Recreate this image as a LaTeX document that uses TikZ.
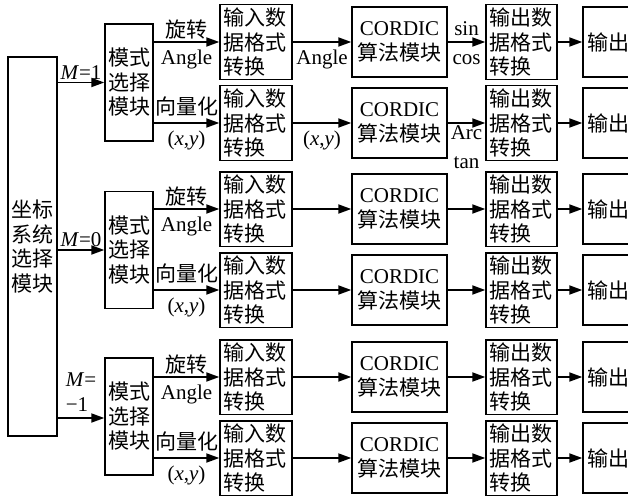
\documentclass[tikz,border=0pt]{standalone}
\usepackage{fontspec}
\setmainfont{Liberation Serif}
\newfontfamily\cjk{Noto Sans CJK SC}
\usepackage{tikz}
\usetikzlibrary{arrows.meta, positioning, calc}
\tikzset{
  box/.style={rectangle, draw=black, line width=1.4pt, minimum height=70pt,
    inner sep=3pt, font=\fontsize{21}{24.5}\selectfont},
  cjkbox/.style={box, font=\fontsize{21}{24.5}\selectfont\cjk},
  selbox/.style={cjkbox, minimum width=49pt, minimum height=379pt, align=center},
  modebox/.style={cjkbox, minimum width=48pt, minimum height=117pt, align=center},
  inbox/.style={cjkbox, text width=66pt, align=left},
  cordbox/.style={box, minimum width=95pt, align=center},
  fmtbox/.style={cjkbox, text width=65pt, align=left},
  outbox/.style={cjkbox, text width=70pt, inner sep=4pt, align=left},
  arrow/.style={-{Triangle[length=13pt,width=9pt]}, line width=1.8pt},
  lbl/.style={font=\fontsize{21}{24.5}\selectfont, inner sep=2pt},
  lblup/.style={lbl, above},
  lbldown/.style={lbl, below, yshift=-5pt}
}

\begin{document}
\begin{tikzpicture}[x=1pt, y=-1pt]
    \useasboundingbox (0,0) rectangle (628,495);
    \clip (0,0) rectangle (628,495);

    % coordinate system select + mode select
    \node[selbox] (sel) at (32.5,246.5) {坐标\\系统\\选择\\模块};
    \node[modebox] (mode1) at (129,82.5) {模式\\选择\\模块};
    \node[modebox] (mode2) at (129,250) {模式\\选择\\模块};
    \node[modebox] (mode3) at (129,416.5) {模式\\选择\\模块};

    % input format boxes
    \node[inbox] (in1) at (256,42) {输入数\\据格式\\转换};
    \node[inbox] (in2) at (256,123) {输入数\\据格式\\转换};
    \node[inbox] (in3) at (256,209) {输入数\\据格式\\转换};
    \node[inbox] (in4) at (256,290) {输入数\\据格式\\转换};
    \node[inbox] (in5) at (256,377) {输入数\\据格式\\转换};
    \node[inbox] (in6) at (256,458) {输入数\\据格式\\转换};

    % CORDIC boxes
    \node[cordbox] (cor1) at (399.5,42) {CORDIC\\{\cjk 算法模块}};
    \node[cordbox] (cor2) at (399.5,123) {CORDIC\\{\cjk 算法模块}};
    \node[cordbox] (cor3) at (399.5,209) {CORDIC\\{\cjk 算法模块}};
    \node[cordbox] (cor4) at (399.5,290) {CORDIC\\{\cjk 算法模块}};
    \node[cordbox] (cor5) at (399.5,377) {CORDIC\\{\cjk 算法模块}};
    \node[cordbox] (cor6) at (399.5,458) {CORDIC\\{\cjk 算法模块}};

    % output format boxes
    \node[fmtbox] (fmt1) at (521.5,42) {输出数\\据格式\\转换};
    \node[fmtbox] (fmt2) at (521.5,123) {输出数\\据格式\\转换};
    \node[fmtbox] (fmt3) at (521.5,209) {输出数\\据格式\\转换};
    \node[fmtbox] (fmt4) at (521.5,290) {输出数\\据格式\\转换};
    \node[fmtbox] (fmt5) at (521.5,377) {输出数\\据格式\\转换};
    \node[fmtbox] (fmt6) at (521.5,458) {输出数\\据格式\\转换};

    % output boxes (cut at the right edge)
    \node[outbox] (out1) at (622,42) {输出};
    \node[outbox] (out2) at (622,123) {输出};
    \node[outbox] (out3) at (622,209) {输出};
    \node[outbox] (out4) at (622,290) {输出};
    \node[outbox] (out5) at (622,377) {输出};
    \node[outbox] (out6) at (622,458) {输出};

    % M select arrows
    \draw[arrow] (sel.east |- mode1.west) -- node[lblup] {\textit{M}=1} (mode1.west);
    \draw[arrow] (sel.east |- mode2.west) -- node[lblup] {\textit{M}=0} (mode2.west);
    \draw[arrow] ($(sel.east |- mode3.west)+(0,1.5)$) -- node[lblup, align=left, yshift=4pt] {\textit{M}=\\−1} ($(mode3.west)+(0,1.5)$);

    % mode select -> input format
    \draw[arrow] (mode1.east |- in1.west) -- node[lblup] {\cjk 旋转} node[lbldown] {Angle} (in1.west);
    \draw[arrow] (mode1.east |- in2.west) -- node[lblup, yshift=4pt] {\cjk 向量化} node[lbldown] {(\textit{x},\textit{y})} (in2.west);
    \draw[arrow] (mode2.east |- in3.west) -- node[lblup] {\cjk 旋转} node[lbldown] {Angle} (in3.west);
    \draw[arrow] (mode2.east |- in4.west) -- node[lblup, yshift=4pt] {\cjk 向量化} node[lbldown] {(\textit{x},\textit{y})} (in4.west);
    \draw[arrow] (mode3.east |- in5.west) -- node[lblup] {\cjk 旋转} node[lbldown] {Angle} (in5.west);
    \draw[arrow] (mode3.east |- in6.west) -- node[lblup, yshift=4pt] {\cjk 向量化} node[lbldown] {(\textit{x},\textit{y})} (in6.west);

    % input format -> CORDIC
    \draw[arrow] (in1) -- node[lbldown] {Angle} (cor1);
    \draw[arrow] (in2) -- node[lbldown] {(\textit{x},\textit{y})} (cor2);
    \draw[arrow] (in3) -- (cor3);
    \draw[arrow] (in4) -- (cor4);
    \draw[arrow] (in5) -- (cor5);
    \draw[arrow] (in6) -- (cor6);

    % CORDIC -> output format
    \draw[arrow] (cor1) -- node[lblup, yshift=3pt] {sin} node[lbldown, yshift=-5pt] {cos} (fmt1);
    \draw[arrow] (cor2) -- node[lbl, below, align=center] {Arc\\[4pt]tan} (fmt2);
    \draw[arrow] (cor3) -- (fmt3);
    \draw[arrow] (cor4) -- (fmt4);
    \draw[arrow] (cor5) -- (fmt5);
    \draw[arrow] (cor6) -- (fmt6);

    % output format -> output
    \draw[arrow] (fmt1) -- (out1);
    \draw[arrow] (fmt2) -- (out2);
    \draw[arrow] (fmt3) -- (out3);
    \draw[arrow] (fmt4) -- (out4);
    \draw[arrow] (fmt5) -- (out5);
    \draw[arrow] (fmt6) -- (out6);
  \end{tikzpicture}
\end{document}
